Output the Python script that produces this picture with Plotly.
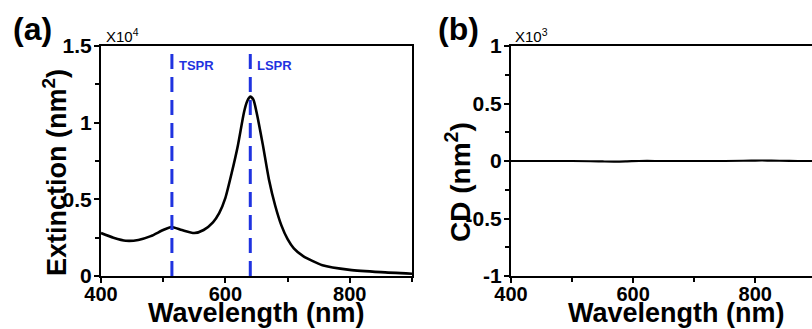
import plotly.graph_objects as go

# ---- data ----
wavelength_a = [400, 420, 440, 460, 480, 500, 513, 530, 550, 565, 580, 590, 600, 610, 620, 630,
                635, 640, 645, 650, 660, 670, 680, 690, 700, 710, 725, 756, 800, 850, 900]
extinction = [0.28, 0.25, 0.23, 0.235, 0.26, 0.30, 0.32, 0.30, 0.28, 0.30, 0.35, 0.41, 0.51,
              0.67, 0.85, 1.07, 1.14, 1.17, 1.15, 1.07, 0.86, 0.63, 0.46, 0.33, 0.24, 0.18,
              0.13, 0.07, 0.04, 0.025, 0.015]
peak_positions = [514, 640]
peak_labels = ["TSPR", "LSPR"]

wavelength_b = [400, 450, 500, 530, 550, 570, 590, 610, 650, 700, 750, 780, 800, 820, 840, 870, 893]
cd = [0.0, 0.0, 0.0, -0.002, -0.004, -0.005, -0.003, 0.0, 0.0, 0.0, 0.0, 0.002, 0.004, 0.004, 0.002, 0.0, 0.0]

ext_ticks = [0, 0.5, 1, 1.5]
ext_ticktext = ["0", "0.5", "1", "1.5"]
cd_ticks = [-1, -0.5, 0, 0.5, 1]
cd_ticktext = ["-1", "-0.5", "0", "0.5", "1"]
x_ticks = [400, 600, 800]

W, H = 812, 329
FONT = "Liberation Sans, Arial, sans-serif"
BLUE = "#1f33e0"

def px(v):  # horizontal pixel -> paper
    return v / W

def py(v):  # vertical pixel (from top) -> paper
    return (H - v) / H

fig = go.Figure()

fig.add_trace(go.Scatter(x=wavelength_a, y=extinction, mode="lines",
                         line=dict(color="black", width=2.6, shape="spline", smoothing=0.6),
                         xaxis="x", yaxis="y", showlegend=False))
for p in peak_positions:
    fig.add_trace(go.Scatter(x=[p, p], y=[ext_ticks[0], ext_ticks[-1]], mode="lines",
                             line=dict(color=BLUE, width=3, dash="15px,8px"),
                             xaxis="x", yaxis="y", showlegend=False))

fig.add_trace(go.Scatter(x=wavelength_b, y=cd, mode="lines",
                         line=dict(color="black", width=2.2, shape="spline"),
                         xaxis="x2", yaxis="y2", showlegend=False))

xtickfont = dict(family=FONT, size=20, color="black", weight="bold")
ytickfont = dict(family=FONT, size=21, color="black", weight="bold")
common_axis = dict(showline=True, linecolor="black", linewidth=2, ticks="outside",
                   tickwidth=2, tickcolor="black", ticklen=5, showgrid=False,
                   zeroline=False, automargin=False)
minor_x = dict(dtick=100, ticks="outside", ticklen=4, tickwidth=2, tickcolor="black")
minor_y = dict(dtick=0.25, ticks="outside", ticklen=4, tickwidth=2, tickcolor="black")

fig.update_layout(
    width=W, height=H, margin=dict(l=0, r=0, t=0, b=0, pad=0, autoexpand=False),
    paper_bgcolor="white", plot_bgcolor="white", showlegend=False,
    xaxis=dict(domain=[px(101), px(412)], range=[400, 900], tickvals=x_ticks,
               mirror=True, anchor="y", minor=minor_x, tickfont=xtickfont,
               ticklabelstandoff=-6, **common_axis),
    yaxis=dict(domain=[py(276), py(46)], range=[0, 1.5], tickvals=ext_ticks,
               ticktext=ext_ticktext, mirror=True, anchor="x", minor=minor_y,
               tickfont=ytickfont, ticklabelstandoff=-2, **common_axis),
    xaxis2=dict(domain=[px(511), 1.0], range=[400, 893], tickvals=x_ticks,
                mirror=True, anchor="y2", minor=minor_x, tickfont=xtickfont,
                ticklabelstandoff=-6, **common_axis),
    yaxis2=dict(domain=[py(276), py(46)], range=[-1, 1], tickvals=cd_ticks,
                ticktext=cd_ticktext, mirror=False, anchor="x2", minor=minor_y,
                tickfont=ytickfont, ticklabelstandoff=-2, **common_axis),
)

annotations = []
for p, lab in zip(peak_positions, peak_labels):
    annotations.append(dict(x=p + 8, y=1.37, xref="x", yref="y", text=lab, showarrow=False,
                            xanchor="left", yanchor="middle",
                            font=dict(family=FONT, size=13, color=BLUE, weight="bold")))

title_font = dict(family=FONT, size=27, color="black", weight="bold")
annotations += [
    dict(x=px(256), y=py(313), xref="paper", yref="paper", text="Wavelength (nm)",
         showarrow=False, xanchor="center", yanchor="middle", font=title_font),
    dict(x=px(676), y=py(313), xref="paper", yref="paper", text="Wavelength (nm)",
         showarrow=False, xanchor="center", yanchor="middle", font=title_font),
    dict(x=px(55), y=py(173), xref="paper", yref="paper", text="Extinction (nm<sup>2</sup>)",
         showarrow=False, xanchor="center", yanchor="middle", textangle=-90, font=title_font),
    dict(x=px(458), y=py(182), xref="paper", yref="paper", text="CD (nm<sup>2</sup>)",
         showarrow=False, xanchor="center", yanchor="middle", textangle=-90,
         font=dict(family=FONT, size=28, color="black", weight="bold")),
    dict(x=px(11), y=py(29), xref="paper", yref="paper", text="(a)", showarrow=False,
         xanchor="left", yanchor="middle",
         font=dict(family=FONT, size=32, color="black", weight="bold")),
    dict(x=px(436), y=py(29), xref="paper", yref="paper", text="(b)", showarrow=False,
         xanchor="left", yanchor="middle",
         font=dict(family=FONT, size=32, color="black", weight="bold")),
    dict(x=px(104), y=py(47), xref="paper", yref="paper", text="X10<sup>4</sup>", showarrow=False,
         xanchor="left", yanchor="bottom", font=dict(family=FONT, size=15, color="black")),
    dict(x=px(513), y=py(47), xref="paper", yref="paper", text="X10<sup>3</sup>", showarrow=False,
         xanchor="left", yanchor="bottom", font=dict(family=FONT, size=15, color="black")),
]
fig.update_layout(annotations=annotations)

fig.write_html("out.html")
